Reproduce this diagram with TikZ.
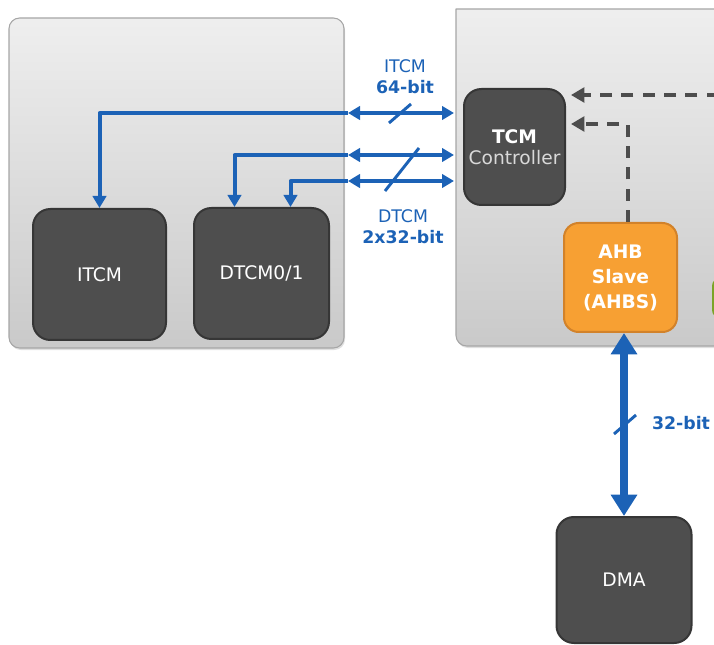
\documentclass[tikz,border=0pt]{standalone}
\usepackage{fontspec}
\setmainfont{DejaVu Sans}
\usetikzlibrary{arrows.meta,calc,shadows}
\definecolor{busblue}{HTML}{1C62B6}
\definecolor{blockgray}{HTML}{4E4E4E}
\definecolor{blockedge}{HTML}{363636}
\definecolor{ahborange}{HTML}{F7A033}
\definecolor{ahbedge}{HTML}{D2822A}
\definecolor{ctrlgray}{HTML}{4D4D4D}
\definecolor{apbgreen}{HTML}{7BA428}
\tikzset{
  panel/.style={draw=gray!70, line width=0.8pt, top color=gray!13, bottom color=gray!42,
    drop shadow={opacity=0.25, shadow xshift=0.8pt, shadow yshift=-1.5pt}},
  block/.style={draw=blockedge, fill=blockgray, line width=1.5pt, rounded corners=13pt, text=white,
    font=\fontsize{14}{16}\selectfont, align=center, inner sep=0pt},
  ahbbox/.style={block, draw=ahbedge, fill=ahborange, rounded corners=11pt, font=\fontsize{14}{18.75}\selectfont\bfseries},
  bus/.style={busblue, line width=3pt, >={Triangle[length=9pt,width=10pt]}},
  bigbus/.style={busblue, line width=6pt, >={Triangle[length=16pt,width=19pt]}},
  tick/.style={busblue, line width=2.2pt},
  ctrl/.style={ctrlgray, line width=3.5pt, dash pattern=on 9pt off 7pt, line cap=butt, -{Triangle[length=10pt,width=11pt]}},
  buslabel/.style={text=busblue, align=center, font=\fontsize{13}{16}\selectfont}
}
\begin{document}
\begin{tikzpicture}[x=0.75pt, y=-0.75pt, line join=round]
  \clip (0,0) rectangle (714,645);
  % panels
  \path[panel, rounded corners=8pt] (9,18) rectangle (344,348);
  \path[panel] (800,9) -- (456,9) [rounded corners=8pt] -- (456,346) -- (800,346) -- cycle;
  \fill[apbgreen, rounded corners=6pt] (712,278) rectangle (780,318);
  % blocks
  \node[block, minimum width=99.75pt, minimum height=98.25pt] (itcm) at (99.5,274.5) {ITCM};
  \node[block, minimum width=101.25pt, minimum height=98.25pt] (dtcm) at (261.5,273.5) {DTCM0/1};
  \node[block, minimum width=75.75pt, minimum height=87pt] (tcm) at (514.5,147) {\textbf{TCM}\\\textcolor{white!85!black}{Controller}};
  \node[ahbbox, minimum width=84.75pt, minimum height=81.75pt] (ahb) at (620.5,277.5) {AHB\\Slave\\(AHBS)};
  \node[block, minimum width=101.25pt, minimum height=94.5pt] (dma) at (624,580) {DMA};
  \coordinate (ia) at (348,113);
  \coordinate (da) at (348,155);
  \coordinate (db) at (348,181);
  \coordinate (ext) at (740,95);
  % TCM buses
  \draw[bus,<->,shorten >=6.75pt] (ia) -- (ia -| tcm.west);
  \draw[bus,->] (ia) -| (itcm.north);
  \draw[bus,<->,shorten >=6.75pt] (da) -- (da -| tcm.west);
  \draw[bus,->] (da) -| ($(dtcm.north)+(-27,0)$);
  \draw[bus,<->,shorten >=6.75pt] (db) -- (db -| tcm.west);
  \draw[bus,->] (db) -| ($(dtcm.north)+(29,0)$);
  \draw[tick] (389,123) -- (411,104);
  \draw[tick] (385,191) -- (419,148);
  \node[buslabel] (ilbl) at (405,77) {ITCM\\\textbf{64-bit}};
  \node[buslabel] (dlbl) at (403,227) {DTCM\\\textbf{2x32-bit}};
  % control paths
  \draw[ctrl, shorten >=3.75pt] (ext) -- (ext -| tcm.east);
  \draw[ctrl, shorten >=3.75pt] ($(ahb.north)+(7.5,0)$) |- ($(tcm.east)+(0,-23)$);
  % DMA port
  \draw[bigbus,<->] (dma.north) -- (dma.north |- ahb.south);
  \draw[tick] (614,434) -- (636,415);
  \node[buslabel, font=\fontsize{13}{16}\selectfont\bfseries] (wlbl) at (681,423) {32-bit};
\end{tikzpicture}
\end{document}
